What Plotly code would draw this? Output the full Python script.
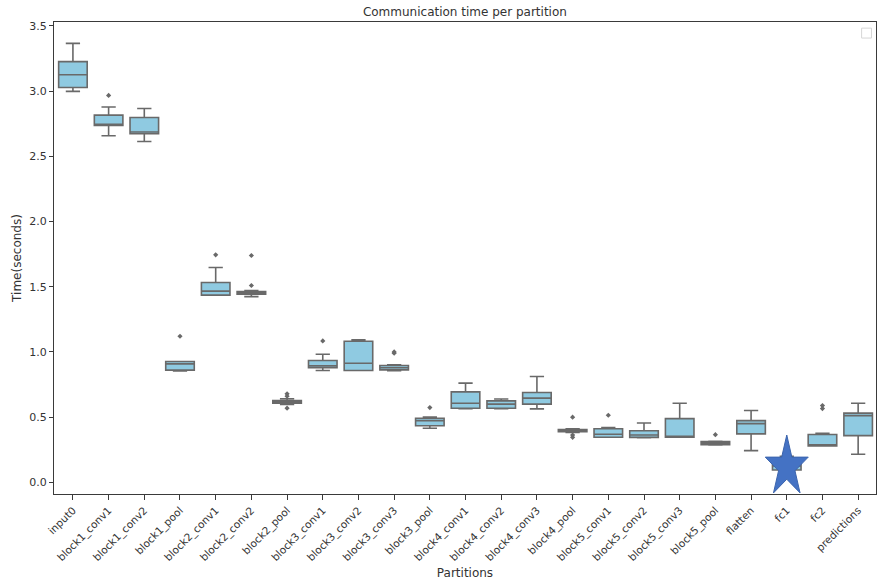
import math
import plotly.graph_objects as go

# Partitions of the network and per-partition communication time statistics (seconds)
partitions = [
    "input0", "block1_conv1", "block1_conv2", "block1_pool",
    "block2_conv1", "block2_conv2", "block2_pool",
    "block3_conv1", "block3_conv2", "block3_conv3", "block3_pool",
    "block4_conv1", "block4_conv2", "block4_conv3", "block4_pool",
    "block5_conv1", "block5_conv2", "block5_conv3", "block5_pool",
    "flatten", "fc1", "fc2", "predictions",
]
q1 = [3.028, 2.737, 2.673, 0.860, 1.435, 1.443, 0.606, 0.878, 0.857, 0.862, 0.434,
      0.568, 0.568, 0.599, 0.388, 0.345, 0.344, 0.345, 0.288, 0.371, 0.094, 0.279, 0.358]
median = [3.126, 2.745, 2.686, 0.908, 1.466, 1.452, 0.617, 0.893, 0.913, 0.878, 0.473,
          0.606, 0.599, 0.645, 0.393, 0.368, 0.362, 0.352, 0.300, 0.450, 0.125, 0.283, 0.511]
q3 = [3.226, 2.816, 2.798, 0.926, 1.532, 1.463, 0.626, 0.934, 1.082, 0.895, 0.491,
      0.693, 0.624, 0.688, 0.405, 0.410, 0.395, 0.488, 0.313, 0.473, 0.170, 0.366, 0.530]
lower_whisker = [2.998, 2.658, 2.614, 0.854, 1.435, 1.424, 0.596, 0.857, 0.857, 0.855, 0.414,
                 0.565, 0.565, 0.563, 0.383, 0.345, 0.342, 0.345, 0.286, 0.243, 0.080, 0.279, 0.215]
upper_whisker = [3.366, 2.878, 2.867, 0.926, 1.647, 1.470, 0.640, 0.982, 1.092, 0.900, 0.501,
                 0.760, 0.639, 0.811, 0.410, 0.420, 0.455, 0.606, 0.315, 0.550, 0.200, 0.376, 0.606]

# Outlying measurements
outlier_partition = [
    "block1_conv1", "block1_pool", "block2_conv1", "block2_conv2", "block2_conv2",
    "block2_pool", "block2_pool", "block2_pool", "block3_conv1", "block3_conv3", "block3_conv3",
    "block3_pool", "block4_pool", "block4_pool", "block4_pool", "block5_conv1",
    "block5_pool", "fc2", "fc2",
]
outlier_time = [
    2.967, 1.120, 1.744, 1.739, 1.509,
    0.678, 0.660, 0.568, 1.084, 1.000, 0.990,
    0.573, 0.499, 0.362, 0.345, 0.514,
    0.365, 0.588, 0.565,
]

y_ticks = [0.0, 0.5, 1.0, 1.5, 2.0, 2.5, 3.0, 3.5]

FILL = "rgb(143,202,225)"
EDGE = "rgb(105,105,105)"
TEXT = "#333333"
FONT = "DejaVu Sans"

fig = go.Figure()

fig.add_trace(go.Box(
    x=partitions,
    q1=q1, median=median, q3=q3,
    lowerfence=lower_whisker, upperfence=upper_whisker,
    fillcolor=FILL,
    line=dict(color=EDGE, width=1.6),
    width=0.8,
    whiskerwidth=0.5,
    boxpoints=False,
    showlegend=False,
    hoverinfo="skip",
))

fig.add_trace(go.Scatter(
    x=outlier_partition, y=outlier_time,
    mode="markers",
    marker=dict(symbol="diamond", size=4, color=EDGE),
    showlegend=False,
    hoverinfo="skip",
))

# Highlight star on the fc1 partition (pixel-sized shape anchored on the fc1 box)
R_y, R_x, r_ratio = 32.0, 22.6, 0.382
pts = []
for k in range(10):
    ang = math.pi / 2 + k * math.pi / 5
    rr = 1.0 if k % 2 == 0 else r_ratio
    pts.append((rr * R_x * math.cos(ang), rr * R_y * math.sin(ang)))
star_path = "M " + " L ".join(f"{px:.2f},{py:.2f}" for px, py in pts) + " Z"

fig.add_shape(
    type="path", path=star_path,
    xref="x", yref="y",
    xsizemode="pixel", ysizemode="pixel",
    xanchor="fc1", yanchor=0.117,
    fillcolor="#4472C4",
    line=dict(color="#3b64ad", width=1),
    layer="above",
)

# Empty legend frame in the upper-right corner
fig.add_shape(
    type="rect", xref="paper", yref="paper",
    x0=0.9825, x1=0.9945, y0=0.966, y1=0.987,
    line=dict(color="#d6d6d6", width=1),
    fillcolor="white",
)

fig.update_layout(
    width=878, height=580,
    margin=dict(l=54, r=2, t=22, b=86),
    plot_bgcolor="white", paper_bgcolor="white",
    font=dict(family=FONT, size=11, color=TEXT),
    title=dict(
        text="Communication time per partition",
        x=0.5295, xanchor="center",
        y=0.979, yanchor="middle", yref="container",
        font=dict(family=FONT, size=12, color=TEXT),
    ),
)

fig.update_xaxes(
    type="category",
    categoryorder="array", categoryarray=partitions,
    range=[-0.53, 22.5],
    showline=True, mirror=True, linecolor="#3a3a3a", linewidth=1.3,
    ticks="outside", ticklen=5, tickcolor="#3a3a3a", tickwidth=1,
    tickangle=-45,
    tickfont=dict(family=FONT, size=10.5, color=TEXT),
    showgrid=False, zeroline=False,
    title=dict(text="Partitions", font=dict(family=FONT, size=12, color=TEXT), standoff=6),
)

fig.update_yaxes(
    range=[-0.09, 3.53],
    tickvals=y_ticks, tickformat=".1f",
    showline=True, mirror=True, linecolor="#3a3a3a", linewidth=1.3,
    ticks="outside", ticklen=4, tickcolor="#3a3a3a", tickwidth=1,
    tickfont=dict(family=FONT, size=11, color=TEXT),
    showgrid=False, zeroline=False,
    title=dict(text="Time(seconds)", font=dict(family=FONT, size=12, color=TEXT), standoff=4),
)

fig.write_html("out.html")
